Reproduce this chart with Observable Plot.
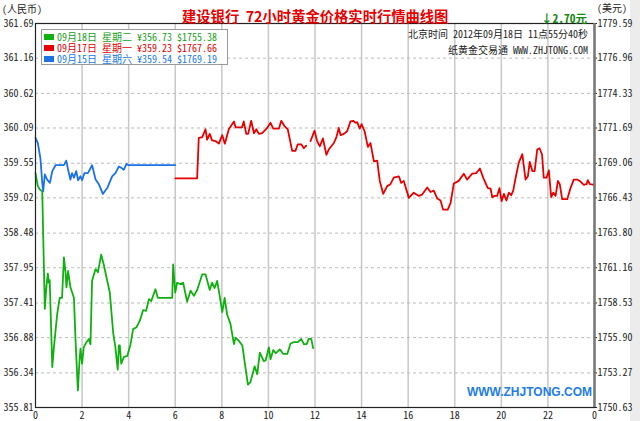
<!DOCTYPE html>
<html><head><meta charset="utf-8">
<script src="https://cdn.jsdelivr.net/npm/d3@7"></script>
<script src="https://cdn.jsdelivr.net/npm/@observablehq/plot@0.6"></script>
<style>
@font-face{font-family:"LegendCJK";src:local("Noto Sans Mono CJK SC"),local("NotoSansMonoCJKsc-Regular"),local("Noto Sans Mono CJK SC Regular"),local("Noto Sans CJK SC"),local("NotoSansCJKsc-Regular"),local("Noto Sans CJK SC Regular");ascent-override:88%;descent-override:12%;line-gap-override:0%;}
body{margin:0;background:#fff;}
#wrap{position:relative;width:640px;height:421px;overflow:hidden;font-family:"Noto Sans Mono CJK SC","Noto Sans CJK SC",sans-serif;font-size:10px;color:#222;}
#strip{position:absolute;left:630px;top:0;width:10px;height:421px;background:#ececec;}
#chart{position:absolute;left:0;top:0;}
.abs{position:absolute;white-space:pre;line-height:12px;}
#title{left:182px;top:8px;font-size:14.3px;line-height:15px;font-weight:bold;color:#e60000;font-family:"Noto Sans CJK SC",sans-serif;}
#chg{right:53px;top:12px;font-size:11.5px;font-weight:bold;color:#118811;}
#legend{position:absolute;left:41px;top:29px;width:185px;height:34px;border:1px solid #999;background:#fff;}
.row{position:absolute;left:0;height:10px;width:185px;}
.sw{position:absolute;left:2px;top:2px;width:10px;height:6px;}
.lt{position:absolute;left:15px;top:0;height:10px;line-height:10px;font-size:10px;white-space:pre;font-family:"LegendCJK","Noto Sans Mono CJK SC","Noto Sans CJK SC",sans-serif;}
#web{right:48px;top:386px;font-family:"Liberation Sans",Arial,sans-serif;font-size:12px;font-weight:bold;color:#1e7de6;}
</style></head><body><div id="wrap"><div id="strip"></div><div id="chart"></div>
<div class="abs" id="title">建设银行  72小时黄金价格实时行情曲线图</div>
<div class="abs" style="left:2px;top:3px;">(人民币)</div>
<div class="abs" style="left:597px;top:2px;">(美元)</div>
<div class="abs" id="chg">↓2.70元</div>
<div class="abs" style="right:52px;top:28px;">北京时间 2012年09月18日 11点55分40秒</div>
<div class="abs" style="right:52px;top:44px;">纸黄金交易通 WWW.ZHJTONG.COM</div>
<div id="legend"></div>
<div class="abs" id="web">WWW.ZHJTONG.COM</div>
</div>
<script>
const rmbTicks = [355.81,356.34,356.88,357.41,357.95,358.48,359.02,359.55,360.09,360.62,361.16,361.69];
const usdTicks = ["1750.63","1753.27","1755.90","1758.53","1761.16","1763.80","1766.43","1769.06","1771.69","1774.33","1776.96","1779.59"];
const hourTicks = [0,2,4,6,8,10,12,14,16,18,20,22,24];
const hourLabels = ["0","2","4","6","8","10","12","14","16","18","20","22","0"];

const legendDates = ["09月18日","09月17日","09月15日"];
const legendDays = ["星期二","星期一","星期六"];
const legendRmb = ["¥356.73","¥359.23","¥359.54"];
const legendUsd = ["$1755.38","$1767.66","$1769.19"];
const seriesColors = ["#10b010","#e80000","#1a72e6"];
const legendTextColors = ["#18a018","#e00000","#1a78e8"];

// 09月15日 (blue)
const sep15 = [[0,359.94],[0.1,359.86],[0.21,359.63],[0.29,359.25],[0.33,359.12],[0.4,359.38],[0.5,359.3],[0.62,359.25],[0.72,359.43],[0.86,359.52],[1.22,359.52],[1.32,359.59],[1.4,359.45],[1.5,359.3],[1.57,359.4],[1.65,359.33],[1.75,359.43],[1.83,359.29],[1.93,359.35],[2.0,359.29],[2.1,359.4],[2.25,359.4],[2.43,359.52],[2.58,359.3],[2.72,359.23],[2.89,359.08],[3.08,359.17],[3.29,359.35],[3.43,359.4],[3.58,359.5],[3.69,359.48],[3.79,359.45],[3.91,359.54],[4.0,359.52],[6.0,359.52]];

// 09月17日 (red)
const sep17 = [[6.0,359.32],[6.94,359.32],[7.01,359.94],[7.16,359.95],[7.3,360.07],[7.37,359.91],[7.48,360.0],[7.58,359.9],[7.73,359.89],[7.87,359.85],[8.02,359.98],[8.13,359.85],[8.3,360.07],[8.52,360.19],[8.59,360.1],[8.87,360.1],[8.94,360.19],[9.05,360.0],[9.13,360.0],[9.26,360.2],[9.38,360.01],[9.48,360.07],[9.59,360.0],[9.73,360.01],[9.92,360.08],[10.09,360.17],[10.21,360.08],[10.45,360.08],[10.55,360.2],[10.69,360.12],[10.83,360.07],[11.02,359.74],[11.16,359.74],[11.26,359.84],[11.41,359.84],[11.52,359.78],[11.62,359.82],[11.7,NaN],[11.81,359.89],[11.98,360.05],[12.09,359.89],[12.21,359.81],[12.34,359.93],[12.49,359.68],[12.59,359.76],[12.7,359.81],[12.81,359.86],[12.92,359.95],[13.02,360.09],[13.1,359.98],[13.24,360.0],[13.38,360.04],[13.52,360.19],[13.64,360.2],[13.74,360.17],[13.81,360.18],[13.92,360.08],[14.0,360.15],[14.13,360.04],[14.27,359.8],[14.38,359.86],[14.53,359.58],[14.67,359.59],[14.78,359.28],[14.93,359.08],[15.1,359.2],[15.24,359.23],[15.38,359.33],[15.6,359.35],[15.7,359.25],[15.81,359.28],[16.03,359.02],[16.24,359.1],[16.46,359.05],[16.6,359.07],[16.82,359.18],[16.96,359.11],[17.1,359.13],[17.25,359.01],[17.39,358.98],[17.5,358.84],[17.7,358.84],[17.82,358.94],[17.96,359.24],[18.17,359.28],[18.39,359.39],[18.53,359.3],[18.75,359.39],[18.93,359.4],[19.08,359.47],[19.22,359.33],[19.42,359.17],[19.54,359.16],[19.61,359.03],[19.71,359.05],[19.82,359.05],[19.92,359.17],[20.01,358.97],[20.11,359.08],[20.22,358.98],[20.32,359.1],[20.42,359.06],[20.51,359.13],[20.61,359.32],[20.75,359.56],[20.9,359.69],[21.04,359.3],[21.14,359.35],[21.22,359.57],[21.33,359.43],[21.43,359.43],[21.54,359.76],[21.64,359.78],[21.75,359.68],[21.82,359.33],[21.94,359.33],[22.04,359.44],[22.14,359.03],[22.23,359.1],[22.33,359.05],[22.43,359.28],[22.51,359.23],[22.61,359.0],[22.83,359.0],[22.97,359.17],[23.11,359.3],[23.26,359.3],[23.4,359.27],[23.54,359.22],[23.66,359.23],[23.71,359.29],[23.8,359.23],[24.0,359.22]];

// 09月18日 (green)
const sep18 = [[0,359.4],[0.1,359.2],[0.18,359.15],[0.29,359.12],[0.33,358.46],[0.4,357.32],[0.47,357.67],[0.53,357.86],[0.57,357.72],[0.61,357.76],[0.72,356.43],[0.79,356.73],[0.93,357.24],[1.04,357.49],[1.14,357.49],[1.22,358.11],[1.29,357.88],[1.33,357.65],[1.4,357.9],[1.5,357.65],[1.65,357.49],[1.72,356.83],[1.82,356.07],[1.88,356.48],[1.93,356.71],[2.0,356.48],[2.07,356.73],[2.19,356.81],[2.29,356.86],[2.36,356.78],[2.43,357.75],[2.58,357.93],[2.68,357.88],[2.82,358.15],[2.93,358.0],[3.08,357.75],[3.19,357.57],[3.34,356.94],[3.43,356.73],[3.53,356.39],[3.58,356.76],[3.62,356.76],[3.68,356.48],[3.79,356.58],[3.94,356.6],[4.08,356.78],[4.19,357.01],[4.34,357.04],[4.48,357.14],[4.62,357.3],[4.75,357.29],[4.87,357.47],[4.97,357.44],[5.15,357.62],[5.25,357.49],[5.87,357.49],[5.91,358.0],[6.0,357.57],[6.08,357.72],[6.22,357.7],[6.34,357.72],[6.51,357.43],[6.66,357.6],[6.8,357.52],[6.94,357.61],[7.16,357.85],[7.3,357.85],[7.48,357.61],[7.58,357.72],[7.69,357.64],[7.8,357.75],[7.87,357.6],[8.02,357.27],[8.12,357.49],[8.23,357.23],[8.37,357.09],[8.52,356.78],[8.59,356.88],[8.73,356.83],[8.88,356.76],[8.99,356.48],[9.12,356.16],[9.23,356.2],[9.41,356.44],[9.52,356.32],[9.63,356.65],[9.8,356.52],[9.88,356.53],[10.02,356.73],[10.09,356.55],[10.21,356.69],[10.31,356.64],[10.49,356.7],[10.64,356.63],[10.81,356.63],[10.95,356.79],[11.09,356.81],[11.26,356.81],[11.41,356.86],[11.52,356.78],[11.64,356.78],[11.73,356.86],[11.84,356.86],[11.92,356.72]];

const series = [sep18, sep17, sep15];

// legend
const lg = d3.select("#legend");
legendDates.forEach((d, i) => {
  const r = lg.append("div").attr("class", "row").style("top", (1.5 + i * 11.3) + "px").style("color", legendTextColors[i]);
  r.append("div").attr("class", "sw").style("background", seriesColors[i]);
  r.append("div").attr("class", "lt").text(`${d} ${legendDays[i]} ${legendRmb[i]} ${legendUsd[i]}`);
});

const fmt = d => d.toFixed(2);
const chart = Plot.plot({
  width: 640, height: 421,
  marginLeft: 35, marginRight: 46, marginTop: 23, marginBottom: 14,
  style: {fontFamily: '"Noto Sans Mono CJK SC","Noto Sans CJK SC",sans-serif', fontSize: "10px", color: "#222", background: "transparent", overflow: "visible"},
  x: {domain: [0, 24]},
  y: {domain: [rmbTicks[0], rmbTicks[rmbTicks.length - 1]]},
  marks: [
    Plot.ruleX(hourTicks.slice(1, -1), {stroke: "#c8c8c8", strokeWidth: 1.5}),
    Plot.ruleY(rmbTicks.slice(1, -1), {stroke: "#bbb", strokeDasharray: "3,3"}),
    Plot.axisX(hourTicks, {tickSize: 0, tickPadding: 4, tickFormat: d => hourLabels[hourTicks.indexOf(d)], fill: "#222"}),
    Plot.axisY(rmbTicks, {anchor: "left", tickSize: 0, tickPadding: 2, tickFormat: fmt, fill: "#222"}),
    Plot.axisY(rmbTicks, {anchor: "right", tickSize: 2, tickPadding: 1, tickFormat: d => usdTicks[rmbTicks.indexOf(d)], fill: "#222"}),
    ...series.map((s, i) => Plot.line(s, {x: d => d[0], y: d => d[1], stroke: seriesColors[i], strokeWidth: 1.8})),
    Plot.frame({stroke: "#222", strokeWidth: 1.2}),
    Plot.ruleX([24], {stroke: "#777", strokeWidth: 2.5})
  ]
});
document.getElementById("chart").appendChild(chart);
</script>
</body></html>
